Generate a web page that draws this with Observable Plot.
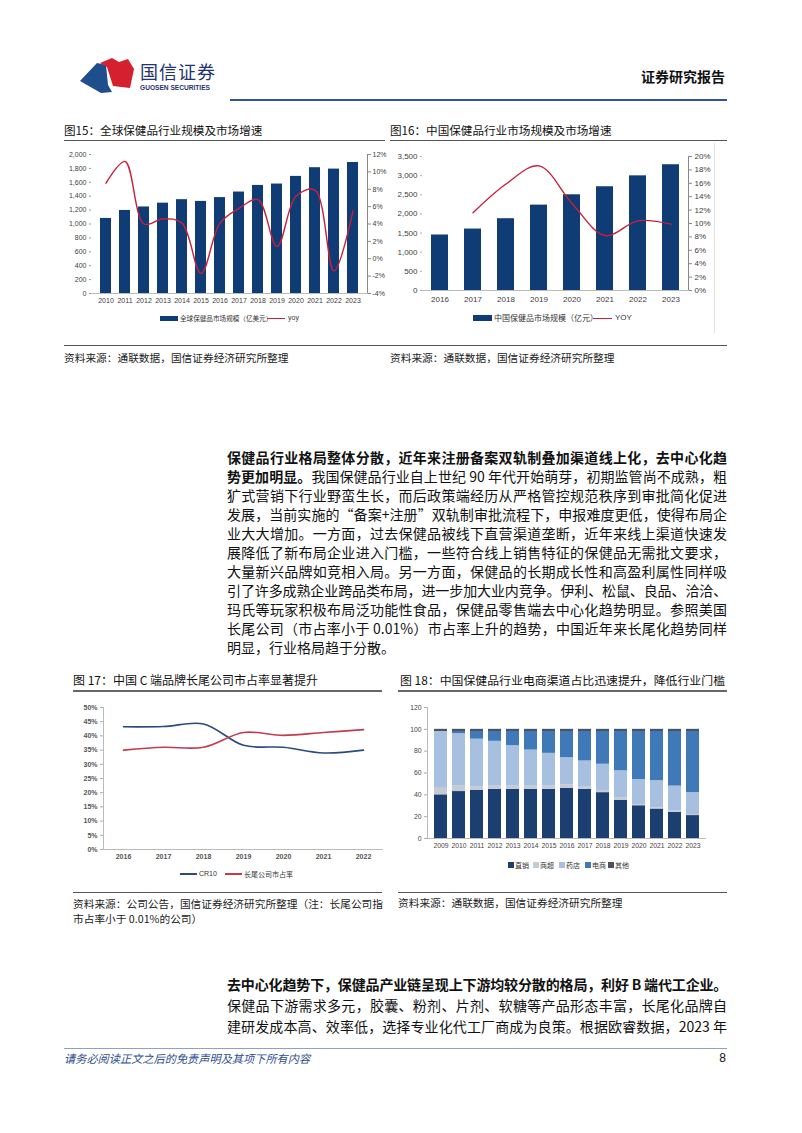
<!DOCTYPE html>
<html><head><meta charset="utf-8">
<script src="https://cdn.jsdelivr.net/npm/d3@7"></script>
<script src="https://cdn.jsdelivr.net/npm/@observablehq/plot@0.6"></script>
<style>
html,body{margin:0;padding:0;background:#fff;}
body{width:802px;height:1133px;position:relative;overflow:hidden;font-family:"Noto Sans CJK SC","Noto Sans",sans-serif;color:#111;}
.abs{position:absolute;white-space:nowrap;}
.hl{position:absolute;height:1px;background:#555;}
.ft{font-size:11.6px;line-height:16px;color:#111;}
.src{font-size:10.7px;line-height:14px;color:#222;}
.pl{position:absolute;left:227px;width:500px;font-size:14px;line-height:19px;text-align:justify;text-align-last:justify;color:#111;}
.lg{font-size:7px;line-height:10px;color:#333;}
svg{overflow:visible;}
</style></head>
<body>
<!-- header -->
<svg class="abs" style="left:78px;top:55px" width="60" height="42" viewBox="0 0 60 42">
  <polygon points="2,26 19,8 28,10 30,30 34,37 23,38" fill="#1f4e8c"/>
  <polygon points="22,8 34,3 41,7 50,4 56,14 52,33 35,31 29,12" fill="#d4202f"/>
</svg>
<div class="abs" style="left:140px;top:59px;font-size:18px;line-height:24px;letter-spacing:1px;color:#1f3470;">国信证券</div>
<div class="abs" style="left:140px;top:83px;font-size:6.6px;line-height:9px;font-weight:bold;font-family:'Liberation Sans',Arial,sans-serif;color:#1f3470;">GUOSEN SECURITIES</div>
<div class="abs" style="right:77px;top:67px;font-size:14px;line-height:18px;font-weight:bold;color:#111;">证券研究报告</div>
<div class="abs" style="left:230px;top:99px;width:497px;height:2px;background:#2f5597;"></div>

<!-- fig 15/16 titles -->
<div class="abs ft" style="left:64px;top:122px;">图15：全球保健品行业规模及市场增速</div>
<div class="abs ft" style="left:390px;top:122px;">图16：中国保健品行业市场规模及市场增速</div>
<div class="hl" style="left:64px;top:140px;width:321px;"></div>
<div class="hl" style="left:390px;top:140px;width:337px;"></div>

<div id="c15" class="abs" style="left:64px;top:145px;"></div>
<div id="c16" class="abs" style="left:390px;top:145px;"></div>
<div class="abs" style="left:714px;top:143px;width:1px;height:190px;background:#e2e2e2;"></div>

<!-- legends 15 -->
<div class="abs" style="left:160px;top:315.5px;width:18px;height:5px;background:#0f3c74;"></div>
<div class="abs lg" style="left:180px;top:313px;font-size:6.6px;">全球保健品市场规模（亿美元）</div>
<div class="abs" style="left:267px;top:317.5px;width:18px;height:1.5px;background:#c8203c;"></div>
<div class="abs lg" style="left:288px;top:313px;font-family:'Liberation Sans',Arial,sans-serif;">yoy</div>
<!-- legends 16 -->
<div class="abs" style="left:473px;top:315px;width:19px;height:6px;background:#0f3c74;"></div>
<div class="abs lg" style="left:494px;top:312px;font-size:8px;line-height:12px;">中国保健品市场规模（亿元）</div>
<div class="abs" style="left:593px;top:317.5px;width:19px;height:1.5px;background:#c8203c;"></div>
<div class="abs lg" style="left:615px;top:312px;font-size:8px;line-height:12px;font-family:'Liberation Sans',Arial,sans-serif;">YOY</div>

<div class="hl" style="left:64px;top:345px;width:663px;"></div>
<div class="abs src" style="left:64px;top:351px;">资料来源：通联数据，国信证券经济研究所整理</div>
<div class="abs src" style="left:390px;top:351px;">资料来源：通联数据，国信证券经济研究所整理</div>

<!-- paragraph 1 -->
<div class="pl" style="top:448px;"><b>保健品行业格局整体分散，近年来注册备案双轨制叠加渠道线上化，去中心化趋</b></div>
<div class="pl" style="top:467px;"><b>势更加明显。</b>我国保健品行业自上世纪 90 年代开始萌芽，初期监管尚不成熟，粗</div>
<div class="pl" style="top:486px;">犷式营销下行业野蛮生长，而后政策端经历从严格管控规范秩序到审批简化促进</div>
<div class="pl" style="top:505px;">发展，当前实施的“备案+注册”双轨制审批流程下，申报难度更低，使得布局企</div>
<div class="pl" style="top:524px;">业大大增加。一方面，过去保健品被线下直营渠道垄断，近年来线上渠道快速发</div>
<div class="pl" style="top:543px;">展降低了新布局企业进入门槛，一些符合线上销售特征的保健品无需批文要求，</div>
<div class="pl" style="top:562px;">大量新兴品牌如竞相入局。另一方面，保健品的长期成长性和高盈利属性同样吸</div>
<div class="pl" style="top:581px;letter-spacing:-0.2px;">引了许多成熟企业跨品类布局，进一步加大业内竞争。伊利、松鼠、良品、洽洽、</div>
<div class="pl" style="top:600px;">玛氏等玩家积极布局泛功能性食品，保健品零售端去中心化趋势明显。参照美国</div>
<div class="pl" style="top:619px;">长尾公司（市占率小于 0.01%）市占率上升的趋势，中国近年来长尾化趋势同样</div>
<div class="pl" style="top:638px;text-align:left;text-align-last:left;">明显，行业格局趋于分散。</div>

<!-- fig 17/18 -->
<div class="abs ft" style="left:73px;top:672px;font-size:12px;">图 17：中国 C 端品牌长尾公司市占率显著提升</div>
<div class="abs ft" style="left:400px;top:672px;font-size:11.9px;">图 18：中国保健品行业电商渠道占比迅速提升，降低行业门槛</div>
<div class="hl" style="left:73px;top:690px;width:309px;height:1.5px;background:#666;"></div>
<div class="hl" style="left:398px;top:690px;width:329px;height:1.5px;background:#666;"></div>

<div id="c17" class="abs" style="left:73px;top:697px;"></div>
<div id="c18" class="abs" style="left:398px;top:697px;"></div>

<!-- legend 17 -->
<div class="abs" style="left:180px;top:873px;width:17px;height:1.6px;background:#2c4a7e;"></div>
<div class="abs lg" style="left:199px;top:869px;font-family:'Liberation Sans',Arial,sans-serif;">CR10</div>
<div class="abs" style="left:225px;top:873px;width:17px;height:1.6px;background:#c23b4e;"></div>
<div class="abs lg" style="left:244px;top:869px;">长尾公司市占率</div>
<!-- legend 18 -->
<div id="lg18"></div>

<div class="hl" style="left:73px;top:892px;width:309px;"></div>
<div class="hl" style="left:398px;top:892px;width:329px;"></div>
<div class="abs src" style="left:73px;top:897px;">资料来源：公司公告，国信证券经济研究所整理（注：长尾公司指</div>
<div class="abs src" style="left:73px;top:912px;">市占率小于 0.01%的公司）</div>
<div class="abs src" style="left:398px;top:896px;">资料来源：通联数据，国信证券经济研究所整理</div>

<!-- paragraph 2 -->
<div class="pl" style="top:975px;letter-spacing:-0.35px;"><b>去中心化趋势下，保健品产业链呈现上下游均较分散的格局，利好 B 端代工企业。</b></div>
<div class="pl" style="top:996px;">保健品下游需求多元，胶囊、粉剂、片剂、软糖等产品形态丰富，长尾化品牌自</div>
<div class="pl" style="top:1017px;">建研发成本高、效率低，选择专业化代工厂商成为良策。根据欧睿数据，2023 年</div>

<!-- footer -->
<div class="abs" style="left:64px;top:1048px;width:663px;height:1px;background:#8ea2c6;"></div>
<div class="abs" style="left:64px;top:1051px;font-size:11.2px;line-height:14px;font-style:italic;color:#2e4f8f;">请务必阅读正文之后的免责声明及其项下所有内容</div>
<div class="abs" style="right:76px;top:1050px;font-size:12px;line-height:16px;color:#111;font-family:'Liberation Sans',Arial,sans-serif;">8</div>

<script>
// ---------- data ----------
const years15 = ["2010","2011","2012","2013","2014","2015","2016","2017","2018","2019","2020","2021","2022","2023"];
const globalSize = [1080,1195,1245,1300,1350,1325,1380,1460,1555,1575,1685,1810,1790,1885];
const globalYoy = [8.7,11.2,4.0,4.6,4.1,-1.7,4.1,5.8,6.8,1.4,7.2,7.9,-1.4,5.5];

const years16 = ["2016","2017","2018","2019","2020","2021","2022","2023"];
const chinaSize = [1450,1605,1875,2230,2500,2710,2995,3285];
const chinaYoy = [null,11.6,15.9,18.6,13.0,8.2,10.4,9.9];

const years17 = ["2016","2017","2018","2019","2020","2021","2022"];
const cr10 = [43.2,43.3,44.2,36.7,36.0,34.0,35.0];
const longTail = [35.0,36.0,36.0,41.2,40.2,41.2,42.2];
const series17 = ["CR10","长尾公司市占率"];

const years18 = ["2009","2010","2011","2012","2013","2014","2015","2016","2017","2018","2019","2020","2021","2022","2023"];
const directSales = [40,43,44,45,45,45,45,46,45,42,35,30,27,24,21];
const supermarket = [6,5,3,3,3,3,3,3,2,2,2,1,1,1,1];
const pharmacy = [52,48,44,41,37,33,30,25,24,24,25,23,25,23,20];
const ecommerce = [0,2,7,9,13,17,20,24,27,30,36,44,45,50,56];
const others = [2,2,2,2,2,2,2,2,2,2,2,2,2,2,2];
const channelNames = ["直销","商超","药店","电商","其他"];
const channelColors = ["#1b3f70","#c5cad3","#a8c0df","#3f79b8","#4d535e"];

const navy = "#0f3c74", red = "#c8203c";
const axisFont = "'Liberation Sans', Arial, sans-serif";

// ---------- chart 15 ----------
{
  const lo = -4, hi = 12, max = 2000;
  const toL = v => (v - lo) / (hi - lo) * max;
  const rows = years15.map((y, i) => ({year: y, size: globalSize[i], yoy: globalYoy[i]}));
  const p = Plot.plot({
    width: 322, height: 168, marginLeft: 27, marginRight: 19, marginTop: 9, marginBottom: 20,
    style: {fontFamily: axisFont, fontSize: "7px", color: "#404040", background: "transparent"},
    x: {type: "band", domain: years15, paddingInner: 0.4, paddingOuter: 0.2},
    y: {domain: [0, max]},
    marks: [
      Plot.barY(rows, {x: "year", y: "size", fill: navy}),
      Plot.line(rows, {x: "year", y: d => toL(d.yoy), stroke: red, strokeWidth: 1.4, curve: "catmull-rom"}),
      Plot.axisY({anchor: "left", ticks: d3.range(0, max + 1, 200), tickFormat: d3.format(","), tickSize: 2, tickPadding: 3, label: null, stroke: "#999"}),
      Plot.axisY({anchor: "right", ticks: d3.range(lo, hi + 1, 2).map(toL), tickFormat: v => `${Math.round(v / max * (hi - lo) + lo)}%`, tickSize: 3, tickPadding: 2, label: null, stroke: "#888"}),
      Plot.axisX({tickSize: 0, tickPadding: 5, label: null}),
      Plot.frame({anchor: "right", stroke: "#888"}),
      Plot.frame({anchor: "bottom", stroke: "#bbb"})
    ]
  });
  document.getElementById("c15").append(p);
}

// ---------- chart 16 ----------
{
  const lo = 0, hi = 20, max = 3500;
  const toL = v => (v - lo) / (hi - lo) * max;
  const rows = years16.map((y, i) => ({year: y, size: chinaSize[i], yoy: chinaYoy[i]}));
  const p = Plot.plot({
    width: 325, height: 165, marginLeft: 32, marginRight: 27, marginTop: 11, marginBottom: 20,
    style: {fontFamily: axisFont, fontSize: "8px", color: "#404040", background: "transparent"},
    x: {type: "band", domain: years16, paddingInner: 0.47, paddingOuter: 0.235},
    y: {domain: [0, max]},
    marks: [
      Plot.barY(rows, {x: "year", y: "size", fill: navy}),
      Plot.line(rows.filter(d => d.yoy != null), {x: "year", y: d => toL(d.yoy), stroke: red, strokeWidth: 1.4, curve: "catmull-rom"}),
      Plot.axisY({anchor: "left", ticks: d3.range(0, max + 1, 500), tickFormat: d3.format(","), tickSize: 2, tickPadding: 3, label: null, stroke: "#aaa"}),
      Plot.axisY({anchor: "right", ticks: d3.range(lo, hi + 1, 2).map(toL), tickFormat: v => `${Math.round(v / max * (hi - lo) + lo)}%`, tickSize: 3, tickPadding: 3, label: null, stroke: "#888"}),
      Plot.axisX({tickSize: 0, tickPadding: 6, label: null}),
      Plot.frame({anchor: "right", stroke: "#888"}),
      Plot.frame({anchor: "bottom", stroke: "#bbb"})
    ]
  });
  document.getElementById("c16").append(p);
}

// ---------- chart 17 ----------
{
  const rows = years17.flatMap((y, i) => [
    {year: y, series: series17[0], v: cr10[i]},
    {year: y, series: series17[1], v: longTail[i]}
  ]);
  const p = Plot.plot({
    width: 312, height: 168, marginLeft: 30, marginRight: 3, marginTop: 10, marginBottom: 16,
    style: {fontFamily: axisFont, fontSize: "7px", fontWeight: "bold", color: "#555", background: "transparent"},
    x: {type: "point", domain: years17, padding: 0.45},
    y: {domain: [0, 50]},
    color: {domain: series17, range: ["#2c4a7e", "#c23b4e"]},
    marks: [
      Plot.line(rows, {x: "year", y: "v", stroke: "series", strokeWidth: 1.6, curve: "catmull-rom"}),
      Plot.axisY({ticks: d3.range(0, 51, 5), tickFormat: d => d + "%", tickSize: 3, tickPadding: 3, label: null, stroke: "#aaa"}),
      Plot.axisX({tickSize: 0, tickPadding: 5, label: null}),
      Plot.frame({anchor: "left", stroke: "#bbb"}),
      Plot.frame({anchor: "bottom", stroke: "#bbb"})
    ]
  });
  document.getElementById("c17").append(p);
}

// ---------- chart 18 ----------
{
  const cols = [directSales, supermarket, pharmacy, ecommerce, others];
  const rows = years18.flatMap((y, i) => channelNames.map((c, j) => ({year: y, channel: c, v: cols[j][i]})));
  const p = Plot.plot({
    width: 330, height: 160, marginLeft: 29, marginRight: 23, marginTop: 10, marginBottom: 19,
    style: {fontFamily: axisFont, fontSize: "6.8px", color: "#444", background: "transparent"},
    x: {type: "band", domain: years18, paddingInner: 0.3, paddingOuter: 0.15},
    y: {domain: [0, 120]},
    color: {domain: channelNames, range: channelColors},
    marks: [
      Plot.barY(rows, {x: "year", y: "v", fill: "channel"}),
      Plot.axisY({ticks: d3.range(0, 121, 20), tickSize: 3, tickPadding: 3, label: null, stroke: "#aaa"}),
      Plot.axisX({tickSize: 0, tickPadding: 5, label: null}),
      Plot.frame({anchor: "left", stroke: "#bbb"}),
      Plot.frame({anchor: "bottom", stroke: "#bbb"})
    ]
  });
  document.getElementById("c18").append(p);

  // legend
  const lg = document.getElementById("lg18");
  const xs = [508, 533, 559, 585, 608];
  channelNames.forEach((c, j) => {
    const sq = document.createElement("div");
    sq.className = "abs";
    sq.style.cssText = `left:${xs[j]}px;top:862px;width:5.5px;height:5.5px;background:${channelColors[j]};`;
    lg.append(sq);
    const t = document.createElement("div");
    t.className = "abs lg";
    t.style.cssText = `left:${xs[j] + 7}px;top:860px;`;
    t.textContent = c;
    lg.append(t);
  });
}
</script>
</body></html>
